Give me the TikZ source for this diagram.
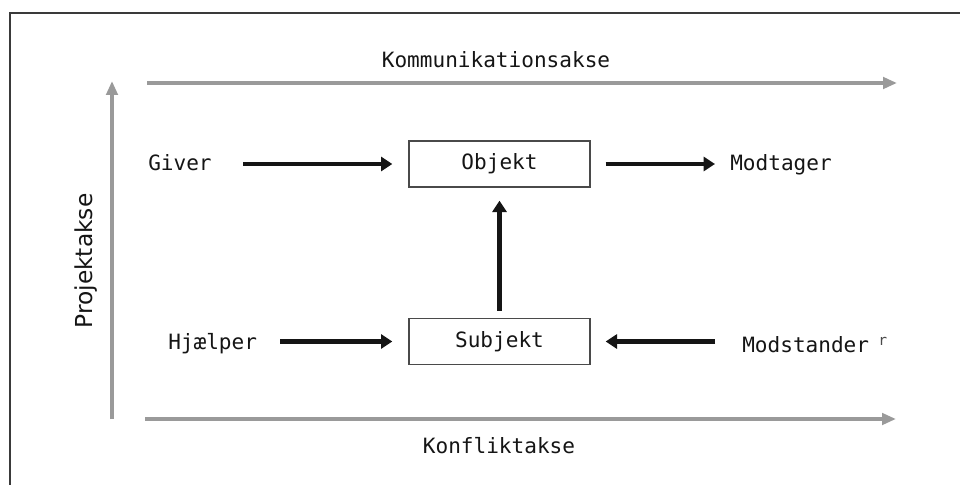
\documentclass[tikz,border=0pt]{standalone}
\usepackage{fontspec}
\setmonofont{DejaVu Sans Mono}
\newfontfamily\projfont{DejaVu Sans}
\usetikzlibrary{arrows.meta}
\definecolor{axisgray}{HTML}{9A9A9A}
\definecolor{ink}{HTML}{151515}
\definecolor{framec}{HTML}{3A3A3A}
\definecolor{boxc}{HTML}{4A4A4A}
\begin{document}
\begin{tikzpicture}[x=0.75pt,y=-0.75pt,
  lbl/.style={font=\fontsize{15.8}{19}\selectfont\ttfamily, text=ink, inner sep=0pt},
  box/.style={lbl, draw=boxc, line width=1pt, minimum width=135.75pt, minimum height=34.5pt},
  axis/.style={draw=axisgray, line width=3pt, -{Triangle[length=10.5pt,width=8.5pt]}},
  flow/.style={draw=ink, line width=3.4pt, -{Triangle[length=8.5pt,width=10.5pt]}}
]
\useasboundingbox (0,0) rectangle (960,485);
\fill[white] (0,0) rectangle (960,485);
\draw[framec, line width=1.2pt] (10,485) -- (10,13) -- (960,13);

% axes
\coordinate (komm0) at (147,83);
\coordinate (komm1) at (897,83);
\coordinate (proj0) at (112,419);
\coordinate (proj1) at (112,81);
\coordinate (konf0) at (145,419);
\coordinate (konf1) at (896,419);
\draw[axis] (komm0) -- (komm1);
\draw[axis] (proj0) -- (proj1);
\draw[axis] (konf0) -- (konf1);

% axis labels
\node[lbl] (komm) at (496,60) {Kommunikationsakse};
\node[lbl] (konf) at (499,446) {Konfliktakse};
\node[font=\projfont\fontsize{17.5}{20}\selectfont, text=ink, inner sep=0pt, rotate=90] (proj) at (86,261) {Projektakse};

% boxes
\node[box] (objekt) at (499.5,164) {Objekt\hspace{7.5pt}};
\node[box] (subjekt) at (499.5,341.5) {Subjekt\hspace{15pt}};

% actants
\node[lbl, anchor=base west] (giver) at (148,170) {Giver};
\node[lbl, anchor=base west] (modtager) at (730,170) {Modtager};
\node[lbl, anchor=base west] (hjaelper) at (168,349) {Hjælper};
\node[lbl, anchor=base west] (modstander) at (742,352) {Modstander\hspace{7pt}\raisebox{5pt}{\textcolor{boxc}{\fontsize{11}{11}\selectfont r}}};

% connectors
\draw[flow, shorten <=23.6pt, shorten >=12pt] (giver.east |- objekt) -- (objekt.west);
\draw[flow, shorten <=11.25pt, shorten >=11.25pt] (objekt.east) -- (modtager.west |- objekt);
\draw[flow, shorten <=17.25pt, shorten >=12pt] (hjaelper.east |- subjekt) -- (subjekt.west);
\draw[flow, shorten <=20.25pt, shorten >=11.25pt] (modstander.west |- subjekt) -- (subjekt.east);
\draw[flow, shorten <=5.25pt, shorten >=9.75pt] (subjekt.north) -- (objekt.south);
\end{tikzpicture}
\end{document}
